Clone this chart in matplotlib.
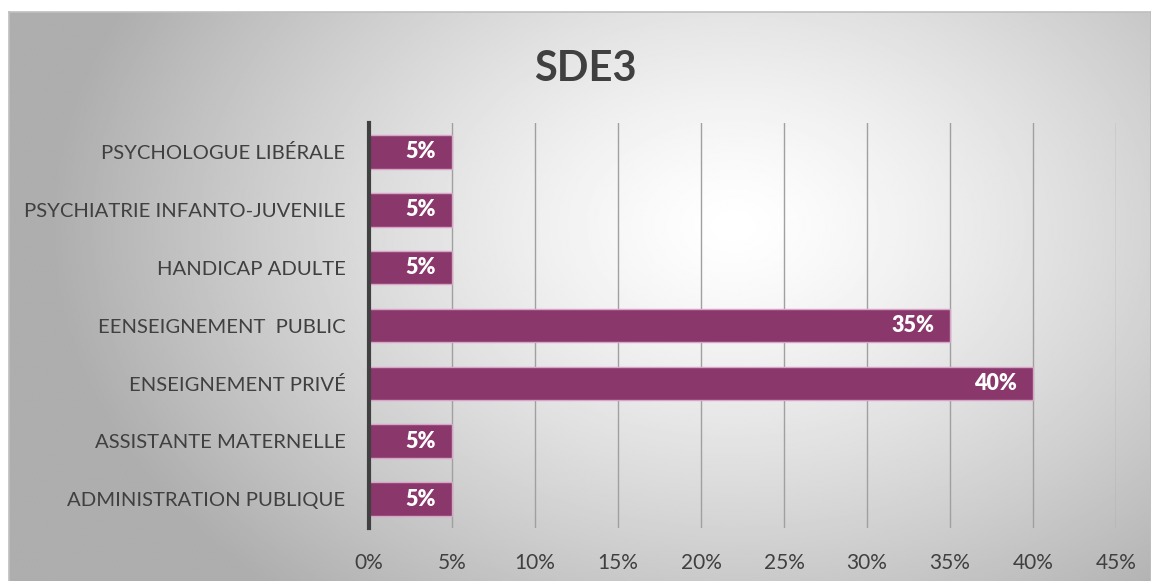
import numpy as np
import matplotlib.pyplot as plt

categories = ['PSYCHOLOGUE LIBÉRALE', 'PSYCHIATRIE INFANTO-JUVENILE', 'HANDICAP ADULTE',
              'EENSEIGNEMENT  PUBLIC', 'ENSEIGNEMENT PRIVÉ', 'ASSISTANTE MATERNELLE',
              'ADMINISTRATION PUBLIQUE']
values = [5, 5, 5, 35, 40, 5, 5]
ticks = [0, 5, 10, 15, 20, 25, 30, 35, 40, 45]

plt.rcParams['font.family'] = ['Lato', 'DejaVu Sans']
W, H = 1151, 581
fig = plt.figure(figsize=(W / 100, H / 100), dpi=100)
fig.patch.set_facecolor('white')

# radial gradient background, bottom edge runs off the image
bg = fig.add_axes([9 / W, -0.02, 1 - 9 / W, 1.02 - 12 / H])
yy, xx = np.mgrid[0:300, 0:600]
cx, cy = 380, 110
r = np.sqrt(((xx - cx) / 600) ** 2 + ((yy - cy) / 300) ** 2 * 0.5)
shade = 1 - 0.32 * np.clip(r / 0.6, 0, 1) ** 1.3
bg.imshow(shade, cmap='gray', vmin=0, vmax=1, aspect='auto', extent=[0, 1, 0, 1], interpolation='bilinear')
bg.set_xticks([])
bg.set_yticks([])
for s in bg.spines.values():
    s.set_color('#bfbfbf')
    s.set_linewidth(1.2)

ax = fig.add_axes([369 / W, 1 - 528 / H, 747 / W, 405 / H])
ax.patch.set_alpha(0)
y = np.arange(len(categories))
ax.barh(y, values, height=0.58, color='#8a376c', edgecolor='#d7a6c6', linewidth=1, zorder=3)
for yi, v in zip(y, values):
    ax.text(v - 0.95, yi, f'{v}%', ha='right', va='center', color='white',
            fontsize=15.5, fontweight='heavy', zorder=4)

ax.set_ylim(len(categories) - 0.5, -0.5)
ax.set_xlim(0, 45)
ax.set_xticks(ticks)
ax.set_xticklabels([f'{t}%' for t in ticks], fontsize=15, color='#404040')
ax.set_yticks(y)
ax.set_yticklabels(categories, fontsize=14.6, color='#404040')
ax.tick_params(axis='both', length=0)
ax.tick_params(axis='x', pad=18)
ax.tick_params(axis='y', pad=17)
ax.grid(axis='x', color='#a0a0a0', linewidth=1, zorder=0)
for s in ['top', 'right', 'bottom']:
    ax.spines[s].set_visible(False)
ax.spines['left'].set_color('#404040')
ax.spines['left'].set_linewidth(3)
ax.spines['left'].set_zorder(5)

fig.text(585 / W, 1 - 69 / H, 'SDE3', ha='center', va='center', fontsize=30,
         fontweight='bold', color='#404040')

fig.savefig('out.png', dpi=100)
